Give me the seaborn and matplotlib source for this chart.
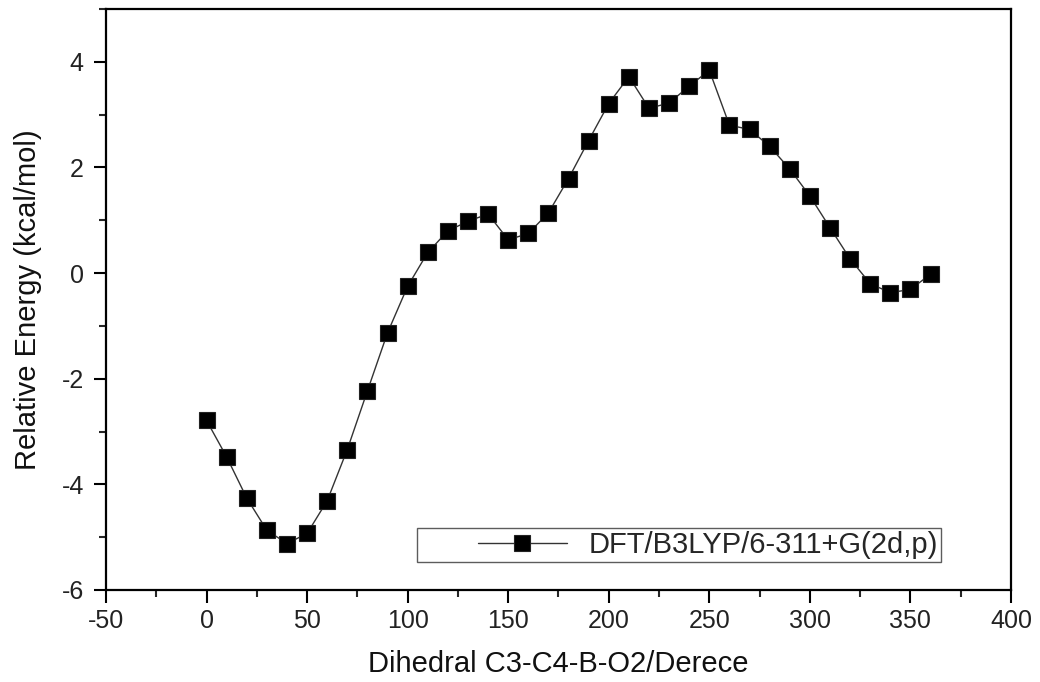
import matplotlib
matplotlib.use("Agg")
import matplotlib.pyplot as plt
import seaborn as sns
import pandas as pd
from matplotlib.ticker import MultipleLocator
from matplotlib.legend_handler import HandlerLine2D

dihedral = [0, 10, 20, 30, 40, 50, 60, 70, 80, 90, 100, 110, 120, 130, 140, 150,
            160, 170, 180, 190, 200, 210, 220, 230, 240, 250, 260, 270, 280, 290,
            300, 310, 320, 330, 340, 350, 360]
energy = [-2.79, -3.48, -4.26, -4.87, -5.12, -4.93, -4.31, -3.34, -2.23, -1.13,
          -0.25, 0.39, 0.80, 0.98, 1.12, 0.63, 0.75, 1.14, 1.79, 2.51, 3.21, 3.72,
          3.12, 3.22, 3.54, 3.84, 2.80, 2.72, 2.40, 1.97, 1.46, 0.86, 0.27, -0.20,
          -0.37, -0.31, -0.02]
series_label = "DFT/B3LYP/6-311+G(2d,p)"
x_label = "Dihedral C3-C4-B-O2/Derece"
y_label = "Relative Energy (kcal/mol)"

df = pd.DataFrame({"x": dihedral, "y": energy})


class OffsetLineHandler(HandlerLine2D):
    """Draw the legend sample in a sub-span of the handle box."""
    def get_xdata(self, legend, xdescent, ydescent, width, height, fontsize):
        x0 = -xdescent + 0.36 * width
        x1 = -xdescent + 0.90 * width
        return [x0, x1], [0.5 * (x0 + x1)]


sns.set_style("ticks")
plt.rcParams['font.family'] = ['Liberation Sans', 'DejaVu Sans']
plt.rcParams['axes.unicode_minus'] = False

fig = plt.figure(figsize=(10.4, 6.82), dpi=100)
ax = fig.add_axes([0.1019, 0.1349, 0.8702, 0.8519])

sns.lineplot(data=df, x="x", y="y", ax=ax, color="#333333", linewidth=1.0,
             marker="s", markersize=11, markeredgecolor="#222222",
             markerfacecolor="black", markeredgewidth=0.8, label=series_label)

ax.set_xlim(-50, 400)
ax.set_ylim(-6, 5)
ax.xaxis.set_major_locator(MultipleLocator(50))
ax.xaxis.set_minor_locator(MultipleLocator(25))
ax.yaxis.set_minor_locator(MultipleLocator(1))
ax.set_yticks([-6, -4, -2, 0, 2, 4])

for s in ax.spines.values():
    s.set_linewidth(1.6)
    s.set_color("black")

ax.tick_params(which="major", direction="out", length=9, width=1.5,
               labelsize=18, colors="black", top=False, right=False)
ax.tick_params(which="minor", direction="out", length=5, width=1.5,
               top=False, right=False)
ax.tick_params(axis="x", which="major", pad=5)
ax.tick_params(axis="y", which="major", pad=7)
for lab in ax.get_xticklabels() + ax.get_yticklabels():
    lab.set_color("#222222")

ax.set_xlabel(x_label, fontsize=21, labelpad=12, color="#111111")
ax.set_ylabel(y_label, fontsize=21, labelpad=14, color="#111111")

handles, labels = ax.get_legend_handles_labels()
leg = ax.legend(handles, labels, loc="lower right", bbox_to_anchor=(0.9227, 0.048),
                fontsize=21, frameon=True, fancybox=False, edgecolor="#333333",
                handlelength=5.6, handletextpad=0.2, borderpad=0.1,
                borderaxespad=0,
                handler_map={handles[0]: OffsetLineHandler()})
leg.get_frame().set_linewidth(1.0)

fig.savefig("out.png", dpi=100)
